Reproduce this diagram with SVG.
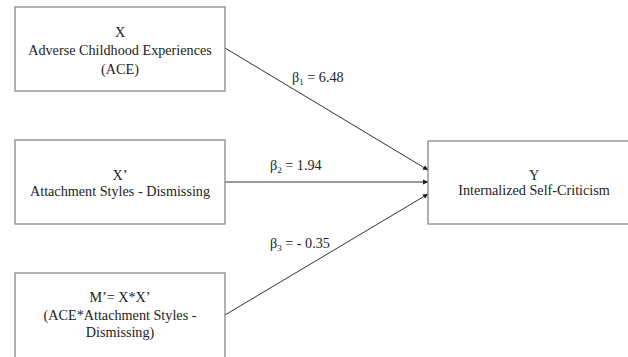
<svg xmlns="http://www.w3.org/2000/svg" width="628" height="357" viewBox="0 0 628 357">
<style>
.box{fill:#fff;stroke:#7f7f7f;stroke-width:1.2}
text{font-family:'Liberation Serif','Times New Roman',Times,serif;font-size:14.2px;fill:#222}
.t{text-anchor:middle}
.sub{font-size:9px}
.c{stroke:#333;stroke-width:1;fill:none;marker-end:url(#ah)}
</style>
<defs>
<marker id="ah" markerWidth="6" markerHeight="6" refX="5" refY="3" orient="auto" markerUnits="userSpaceOnUse">
<path d="M0,0.5 L5.5,3 L0,5.5 Z" fill="#222"/>
</marker>
</defs>
<rect width="628" height="357" fill="#fff"/>
<g id="connectors">
<line class="c" x1="225" y1="48" x2="428" y2="170"/>
<line class="c" x1="225" y1="182" x2="428" y2="182"/>
<line class="c" x1="225" y1="315" x2="428" y2="194"/>
<text x="292" y="82">β<tspan class="sub" dy="3">1</tspan><tspan dy="-3"> = 6.48</tspan></text>
<text x="270" y="170">β<tspan class="sub" dy="3">2</tspan><tspan dy="-3"> = 1.94</tspan></text>
<text x="270" y="248">β<tspan class="sub" dy="3">3</tspan><tspan dy="-3"> = - 0.35</tspan></text>
</g>
<g id="nodeX">
<rect class="box" x="15" y="7" width="210" height="84"/>
<text class="t" x="120" y="37">X</text>
<text class="t" x="120" y="55">Adverse Childhood Experiences</text>
<text class="t" x="120" y="74">(ACE)</text>
</g>
<g id="nodeX2">
<rect class="box" x="15" y="140" width="210" height="84"/>
<text class="t" x="120" y="180">X’</text>
<text class="t" x="120" y="196">Attachment Styles - Dismissing</text>
</g>
<g id="nodeM">
<rect class="box" x="15" y="273" width="210" height="100"/>
<text class="t" x="120" y="302">M’= X*X’</text>
<text class="t" x="120" y="320">(ACE*Attachment Styles  -</text>
<text class="t" x="120" y="337">Dismissing)</text>
</g>
<g id="nodeY">
<rect class="box" x="428" y="141" width="210" height="83"/>
<text class="t" x="534" y="180">Y</text>
<text class="t" x="534" y="195">Internalized Self-Criticism</text>
</g>
</svg>
